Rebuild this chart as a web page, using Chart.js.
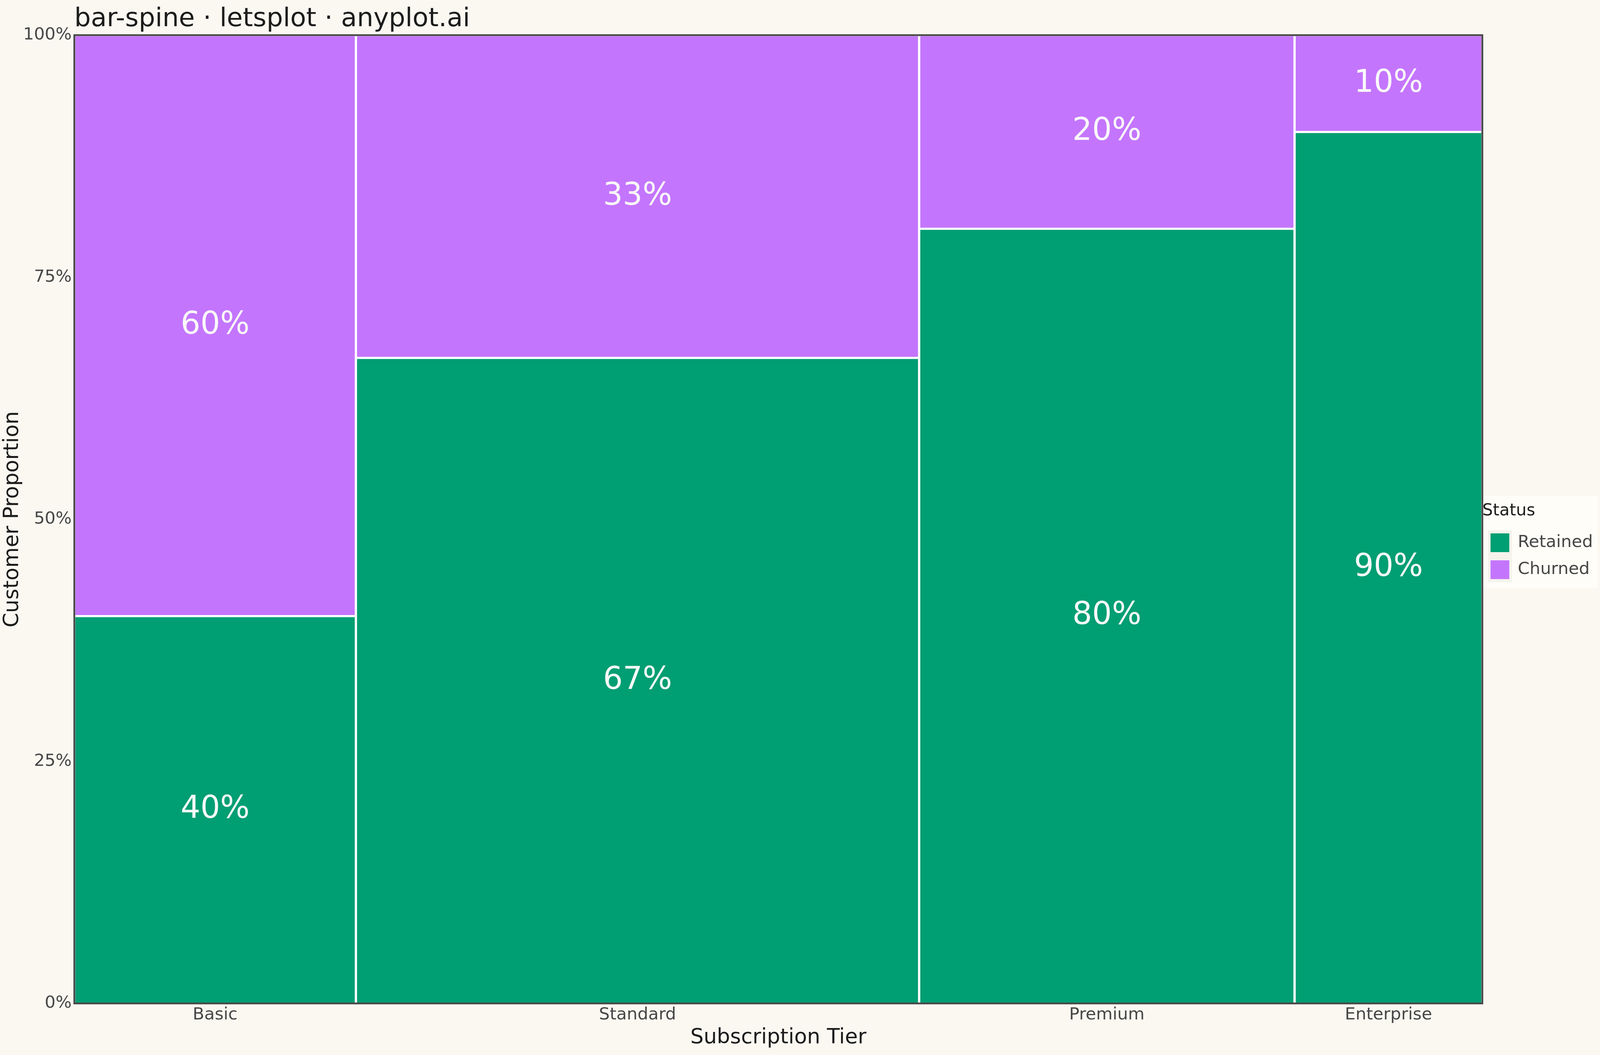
<!DOCTYPE html>
<html>
<head>
<meta charset="utf-8">
<title>bar-spine</title>
<script src="https://cdn.jsdelivr.net/npm/chart.js@4/dist/chart.umd.min.js"></script>
<style>
    html, body { margin: 0; padding: 0; background: #faf8f1; overflow: hidden; }
    canvas { display: block; }
</style>
</head>
<body>
<canvas id="chart-spine"></canvas>
<script>
// data
const tiers = ["Basic", "Standard", "Premium", "Enterprise"];
const retained = [60, 200, 160, 90];
const churned = [90, 100, 40, 10];
const yTicks = [0, 25, 50, 75, 100];

const green = '#009e73';
const purple = '#c475fd';
const family = "'DejaVu Sans', sans-serif";

// layout is measured on a 4800x2700 picture and scaled to whatever window we get
const W = window.innerWidth, H = window.innerHeight;
const kx = W / 4800, ky = H / 2700, kf = Math.sqrt(kx * ky);
const X = v => v * kx;
const Y = v => v * ky;
const F = v => v * kf;

// column edges on the x axis = cumulative customers per tier
const totals = tiers.map((t, i) => retained[i] + churned[i]);
const edges = [0];
totals.forEach(t => edges.push(edges[edges.length - 1] + t));
const centers = tiers.map((t, i) => (edges[i] + edges[i + 1]) / 2);
const share = retained.map((r, i) => r / totals[i] * 100);

function tile(x0, x1, y0, y1) {
    return [{x: x0, y: y0}, {x: x0, y: y1}, {x: x1, y: y1}, {x: x1, y: y0}];
}

const common = {
    borderColor: '#ffffff',
    borderWidth: F(6),
    pointRadius: 0,
    pointHoverRadius: 0,
    showLine: true,
    tension: 0
};

const datasets = [];
tiers.forEach((t, i) => {
    datasets.push(Object.assign({}, common, {
        label: 'Retained',
        data: tile(edges[i], edges[i + 1], 0, share[i]),
        backgroundColor: green,
        fill: 'origin',
        pct: share[i]
    }));
});
tiers.forEach((t, i) => {
    datasets.push(Object.assign({}, common, {
        label: 'Churned',
        data: tile(edges[i], edges[i + 1], share[i], 100),
        backgroundColor: purple,
        fill: {value: share[i]},
        pct: 100 - share[i]
    }));
});

// title, frame, percent labels, legend panel
const decor = {
    id: 'decor',
    beforeDraw(chart) {
        const c = chart.ctx;
        c.save();
        c.fillStyle = '#faf8f1';
        c.fillRect(0, 0, chart.width, chart.height);
        const hb = chart.legend.legendHitBoxes;
        if (hb && hb.length) {
            const first = hb[0], last = hb[hb.length - 1];
            const left = first.left - X(24);
            const top = first.top - Y(96), bottom = last.top + last.height + Y(23);
            c.fillStyle = '#fffdf7';
            c.fillRect(left, top, chart.width - X(8) - left, bottom - top);
            c.fillStyle = '#f5f3ec';
            c.fillRect(first.left - X(8), first.top - Y(8), F(52) + X(16), last.top + last.height + Y(16) - first.top);
        }
        c.restore();
    },
    afterDatasetsDraw(chart) {
        const c = chart.ctx;
        const a = chart.chartArea;
        const xs = chart.scales.x, ys = chart.scales.y;
        c.save();
        c.fillStyle = '#f9f9f9';
        c.font = F(86) + 'px ' + family;
        c.textAlign = 'center';
        c.textBaseline = 'middle';
        chart.data.datasets.forEach(ds => {
            const p = ds.data;
            const cx = xs.getPixelForValue((p[0].x + p[2].x) / 2);
            const cy = ys.getPixelForValue((p[0].y + p[1].y) / 2);
            c.fillText(Math.round(ds.pct) + '%', cx, cy);
        });
        c.strokeStyle = '#474747';
        c.lineWidth = F(5);
        c.strokeRect(a.left, a.top, a.right - a.left, a.bottom - a.top);
        c.fillStyle = '#1c1c1c';
        c.font = F(72) + 'px ' + family;
        c.textAlign = 'left';
        c.textBaseline = 'alphabetic';
        c.fillText('bar-spine · letsplot · anyplot.ai', a.left, Y(67));
        c.restore();
    }
};

const canvas = document.getElementById('chart-spine');
canvas.width = W;
canvas.height = H;

const chart = new Chart(canvas, {
    type: 'scatter',
    data: { datasets: datasets },
    plugins: [decor],
    options: {
        responsive: false,
        animation: false,
        layout: { padding: { top: Y(90), left: 0, bottom: 0, right: 0 } },
        plugins: {
            filler: { drawTime: 'beforeDatasetsDraw' },
            tooltip: { enabled: false },
            legend: {
                position: 'right',
                onClick: null,
                title: {
                    display: true,
                    text: 'Status',
                    position: 'start',
                    color: '#1c1c1c',
                    font: { family: family, size: F(46) },
                    padding: { top: 0, bottom: Y(6) }
                },
                labels: {
                    boxWidth: F(52),
                    boxHeight: F(52),
                    padding: Y(69) - F(52),
                    color: '#474747',
                    font: { family: family, size: F(47) },
                    generateLabels: () => [
                        { text: 'Retained', fillStyle: green, strokeStyle: green, lineWidth: 0, fontColor: '#474747', hidden: false, datasetIndex: 0 },
                        { text: 'Churned', fillStyle: purple, strokeStyle: purple, lineWidth: 0, fontColor: '#474747', hidden: false, datasetIndex: 4 }
                    ]
                }
            }
        },
        scales: {
            x: {
                type: 'linear',
                min: 0,
                max: edges[edges.length - 1],
                afterBuildTicks: s => { s.ticks = centers.map(v => ({ value: v })); },
                afterFit: s => { s.height = Y(132); },
                ticks: {
                    autoSkip: false,
                    maxRotation: 0,
                    padding: Y(4),
                    color: '#474747',
                    font: { family: family, size: F(47) },
                    callback: (v, i) => tiers[i]
                },
                grid: { display: false, drawTicks: false },
                border: { display: false },
                title: {
                    display: true,
                    text: 'Subscription Tier',
                    color: '#1c1c1c',
                    font: { family: family, size: F(58) },
                    padding: { top: 0, bottom: Math.max(0, Y(44) - F(58) * 0.6) }
                }
            },
            y: {
                min: 0,
                max: 100,
                afterBuildTicks: s => { s.ticks = yTicks.map(v => ({ value: v })); },
                afterFit: s => { s.width = X(223); },
                ticks: {
                    padding: X(8),
                    color: '#474747',
                    font: { family: family, size: F(47) },
                    callback: v => v + '%'
                },
                grid: { display: false, drawTicks: false },
                border: { display: false },
                title: {
                    display: true,
                    text: 'Customer Proportion',
                    color: '#1c1c1c',
                    font: { family: family, size: F(58) },
                    padding: { top: 0, bottom: 0 }
                }
            }
        }
    }
});

// make the plot end where the reference plot ends (x = 4447 of 4800)
chart.options.layout.padding.right = Math.max(0, X(4800 - 4447) - chart.legend.width);
chart.update();
</script>
</body>
</html>
